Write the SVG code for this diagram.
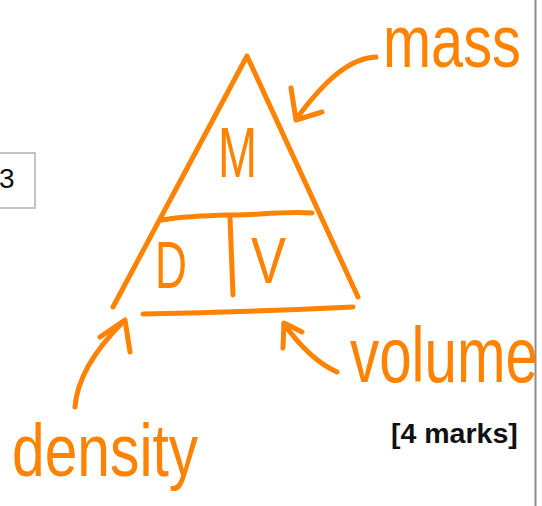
<svg xmlns="http://www.w3.org/2000/svg" width="542" height="506" viewBox="0 0 542 506">
<style>
.ink{fill:none;stroke:#ff8200;stroke-width:5;stroke-linecap:round;stroke-linejoin:round}
.hw{font-family:"Liberation Sans",Arial,sans-serif;fill:#ff8200}
.doc{font-family:"Liberation Sans",Arial,sans-serif;fill:#111}
</style>
<rect width="542" height="506" fill="#fff"/>
<line x1="535.5" y1="0" x2="535.5" y2="506" stroke="#8c8c8c" stroke-width="2"/>
<g id="question-box">
<rect x="-10" y="153" width="45" height="55" fill="#fff" stroke="#c4c4c4" stroke-width="2"/>
<text class="doc" x="-1" y="188" font-size="28">3</text>
</g>
<g id="marks">
<text class="doc" x="391" y="443" font-size="28.5" font-weight="bold">[4 marks]</text>
</g>
<g id="triangle">
<path class="ink" d="M113,307 L247,56 L358,297"/>
<path class="ink" d="M162,220 C200,214 230,216 260,214 S300,212 312,213"/>
<path class="ink" d="M230,218 L233,295"/>
<path class="ink" d="M143,314 Q250,312 353,307"/>
<text class="hw" transform="translate(218,177) scale(0.67,1)" font-size="70">M</text>
<text class="hw" transform="translate(155,288) scale(0.66,1)" font-size="67">D</text>
<text class="hw" transform="translate(251,283) scale(0.82,1)" font-size="64">V</text>
</g>
<g id="label-mass">
<text class="hw" transform="translate(383,67) scale(0.78,1)" font-size="74">mass</text>
</g>
<g id="label-volume">
<text class="hw" transform="translate(350,382) scale(0.748,1)" font-size="78">volume</text>
</g>
<g id="label-density">
<text class="hw" transform="translate(12,476) scale(0.794,1)" font-size="74">density</text>
</g>
<g id="connectors">
<path class="ink" d="M376,57 C350,58 325,80 297,118"/>
<path class="ink" d="M291,88 L296,120 L322,112"/>
<path class="ink" d="M75,407 C77,380 95,350 123,322"/>
<path class="ink" d="M100,337 L125,320 L130,352"/>
<path class="ink" d="M337,372 Q310,360 284,324"/>
<path class="ink" d="M283,348 L284,323 L302,332"/>
</g>
</svg>
